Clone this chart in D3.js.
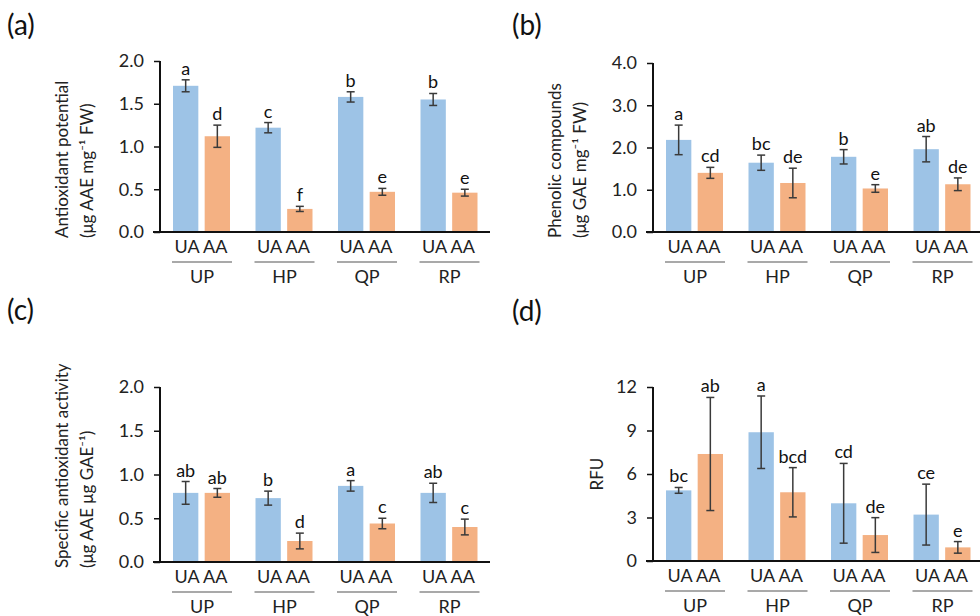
<!DOCTYPE html>
<html>
<head>
<meta charset="utf-8">
<script src="https://cdn.jsdelivr.net/npm/d3@7"></script>
<style>
  body { margin: 0; background: #fff; }
  svg { font-family: Lato, 'Open Sans', sans-serif; }
</style>
</head>
<body>
<svg width="980" height="616"></svg>
<script>
const groups = ['UP', 'HP', 'QP', 'RP'];
const treatments = ['UA', 'AA'];

// (a) antioxidant potential
const apUA = [1.71, 1.22, 1.58, 1.55];
const apUAerr = [0.07, 0.06, 0.06, 0.07];
const apAA = [1.12, 0.27, 0.47, 0.46];
const apAAerr = [0.13, 0.03, 0.04, 0.04];
const apLetUA = ['a', 'c', 'b', 'b'];
const apLetAA = ['d', 'f', 'e', 'e'];

// (b) phenolic compounds
const pcUA = [2.18, 1.64, 1.78, 1.96];
const pcUAerr = [0.35, 0.18, 0.17, 0.30];
const pcAA = [1.40, 1.16, 1.03, 1.13];
const pcAAerr = [0.13, 0.35, 0.09, 0.15];
const pcLetUA = ['a', 'bc', 'b', 'ab'];
const pcLetAA = ['cd', 'de', 'e', 'de'];

// (c) specific antioxidant activity
const saUA = [0.79, 0.73, 0.87, 0.79];
const saUAerr = [0.13, 0.08, 0.06, 0.11];
const saAA = [0.79, 0.24, 0.44, 0.40];
const saAAerr = [0.05, 0.09, 0.06, 0.09];
const saLetUA = ['ab', 'b', 'a', 'ab'];
const saLetAA = ['ab', 'd', 'c', 'c'];

// (d) RFU
const rfuUA = [4.87, 8.88, 3.98, 3.20];
const rfuUAerr = [0.2, 2.5, 2.75, 2.1];
const rfuAA = [7.38, 4.74, 1.79, 0.94];
const rfuAAerr = [3.9, 1.7, 1.2, 0.4];
const rfuLetUA = ['bc', 'a', 'cd', 'ce'];
const rfuLetAA = ['ab', 'bcd', 'de', 'e'];

const colors = { UA: '#9dc3e6', AA: '#f4b183' };

const svg = d3.select('svg');

const toRows = (ua, uaErr, uaLet, aa, aaErr, aaLet) => {
    const rows = [];
    groups.forEach((g, i) => {
        rows.push({ group: g, trt: 'UA', mean: ua[i], err: uaErr[i], letter: uaLet[i] });
        rows.push({ group: g, trt: 'AA', mean: aa[i], err: aaErr[i], letter: aaLet[i] });
    });
    return rows;
};

const panels = [
    { tag: '(a)', tagX: 7, tagY: 35, left: 160, top: 61, bottom: 232, max: 2, ticks: [0, 0.5, 1, 1.5, 2], fmt: d3.format('.1f'),
      title: ['Antioxidant potential', '(μg AAE mg\u207B\u00B9 FW)'],
      rows: toRows(apUA, apUAerr, apLetUA, apAA, apAAerr, apLetAA) },
    { tag: '(b)', tagX: 512, tagY: 35, left: 653, top: 63, bottom: 232, max: 4, ticks: [0, 1, 2, 3, 4], fmt: d3.format('.1f'),
      title: ['Phenolic compounds', '(μg GAE mg\u207B\u00B9 FW)'],
      rows: toRows(pcUA, pcUAerr, pcLetUA, pcAA, pcAAerr, pcLetAA) },
    { tag: '(c)', tagX: 7, tagY: 320, left: 160, top: 387, bottom: 562, max: 2, ticks: [0, 0.5, 1, 1.5, 2], fmt: d3.format('.1f'),
      title: ['Specific antioxidant activity', '(μg AAE μg GAE\u207B\u00B9)'],
      rows: toRows(saUA, saUAerr, saLetUA, saAA, saAAerr, saLetAA) },
    { tag: '(d)', tagX: 512, tagY: 321, left: 653, top: 387, bottom: 561, max: 12, ticks: [0, 3, 6, 9, 12], fmt: d3.format('d'),
      title: ['RFU'],
      rows: toRows(rfuUA, rfuUAerr, rfuLetUA, rfuAA, rfuAAerr, rfuLetAA) }
];

const drawPanel = p => {
    svg.append('text')
        .attr('x', p.tagX)
        .attr('y', p.tagY)
        .attr('font-size', 28)
        .attr('fill', '#111')
        .text(p.tag);

    const g = svg.append('g')
        .attr('transform', `translate(${p.left},0)`);

    const x = d3.scaleBand()
        .domain(groups)
        .range([0, 330]);

    const xi = d3.scaleBand()
        .domain(treatments)
        .range([13, 70])
        .paddingInner(0.2);

    const y = d3.scaleLinear()
        .domain([0, p.max])
        .range([p.bottom, p.top]);

    const cx = d => x(d.group) + xi(d.trt) + xi.bandwidth() / 2;

    // bars
    g.selectAll('.bar').data(p.rows).enter()
        .append('rect')
        .attr('class', 'bar')
        .attr('x', d => x(d.group) + xi(d.trt))
        .attr('width', xi.bandwidth())
        .attr('y', d => y(d.mean))
        .attr('height', d => y(0) - y(d.mean))
        .attr('fill', d => colors[d.trt]);

    // error bars
    const eb = g.selectAll('.err').data(p.rows).enter()
        .append('g')
        .attr('class', 'err')
        .attr('stroke', '#3a3a3a')
        .attr('stroke-width', 1.5);
    eb.append('line')
        .attr('x1', cx).attr('x2', cx)
        .attr('y1', d => y(d.mean + d.err))
        .attr('y2', d => y(d.mean - d.err));
    eb.append('line')
        .attr('x1', d => cx(d) - 4).attr('x2', d => cx(d) + 4)
        .attr('y1', d => y(d.mean + d.err)).attr('y2', d => y(d.mean + d.err));
    eb.append('line')
        .attr('x1', d => cx(d) - 4).attr('x2', d => cx(d) + 4)
        .attr('y1', d => y(d.mean - d.err)).attr('y2', d => y(d.mean - d.err));

    // letters
    g.selectAll('.let').data(p.rows).enter()
        .append('text')
        .attr('class', 'let')
        .attr('x', cx)
        .attr('y', d => y(d.mean + d.err) - 5)
        .attr('text-anchor', 'middle')
        .attr('font-size', 18)
        .attr('fill', '#111')
        .text(d => d.letter);

    // y axis
    const axisY = d3.axisLeft(y)
        .tickValues(p.ticks)
        .tickFormat(p.fmt)
        .tickSize(6)
        .tickPadding(10);
    const ay = g.append('g').call(axisY);
    ay.select('.domain').remove();
    ay.selectAll('line').attr('stroke', '#111').attr('stroke-width', 1.5);
    ay.selectAll('text').attr('font-size', 18).attr('fill', '#222').attr('font-family', 'Lato, sans-serif');

    g.append('line')
        .attr('x1', 0).attr('x2', 0)
        .attr('y1', p.top).attr('y2', p.bottom)
        .attr('stroke', '#111').attr('stroke-width', 2);
    g.append('line')
        .attr('x1', -7).attr('x2', 330)
        .attr('y1', p.bottom).attr('y2', p.bottom)
        .attr('stroke', '#111').attr('stroke-width', 2);

    // x labels
    g.selectAll('.trt').data(groups).enter()
        .append('text')
        .attr('class', 'trt')
        .attr('x', d => x(d) + 41)
        .attr('y', p.bottom + 21)
        .attr('text-anchor', 'middle')
        .attr('font-size', 18)
        .attr('fill', '#222')
        .text(treatments.join(' '));

    g.selectAll('.uline').data(groups).enter()
        .append('line')
        .attr('class', 'uline')
        .attr('x1', d => x(d) + 12)
        .attr('x2', d => x(d) + 72)
        .attr('y1', p.bottom + 30).attr('y2', p.bottom + 30)
        .attr('stroke', '#8c8c8c').attr('stroke-width', 1.5);

    g.selectAll('.grp').data(groups).enter()
        .append('text')
        .attr('class', 'grp')
        .attr('x', d => x(d) + 42)
        .attr('y', p.bottom + 51)
        .attr('text-anchor', 'middle')
        .attr('font-size', 18)
        .attr('fill', '#222')
        .text(d => d);

    // y title
    const offs = p.title.length === 2 ? [-98, -73] : [-56];
    p.title.forEach((t, i) => {
        const tx = offs[i] + 6;
        const ty = p.title.length === 2 ? p.bottom + 6 : (p.top + p.bottom) / 2;
        g.append('text')
            .attr('transform', `translate(${tx},${ty}) rotate(-90)`)
            .attr('text-anchor', p.title.length === 2 ? 'start' : 'middle')
            .attr('font-size', 17)
            .attr('fill', '#222')
            .text(t);
    });
};

panels.forEach(drawPanel);
</script>
</body>
</html>
